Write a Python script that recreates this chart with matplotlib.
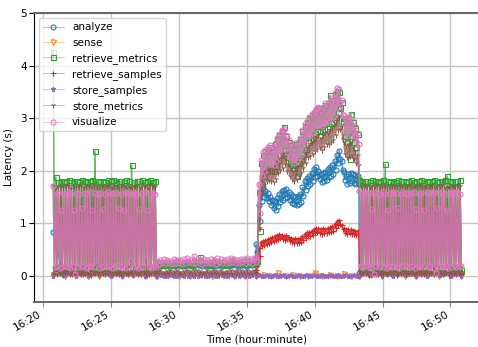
import numpy as np
import pandas as pd
import matplotlib
matplotlib.use("Agg")
import matplotlib.pyplot as plt
import matplotlib.dates as mdates
from matplotlib.colors import to_rgba

# run phases, minutes after 16:00 (load A, idle, stress, load B)
phases = [(20.75, 28.35), (28.40, 35.65), (35.70, 43.25), (43.30, 50.80)]


def zigzag(hi, lo):
    # requests alternate between a slow and a fast answer
    out = []
    for h, l in zip(hi, lo):
        out += [h, l]
    return out


# ---- analyze
an_a = [0.84, 0.06, 0.05, 0.07, 0.05, 0.06, 0.04, 0.06, 0.05, 0.07, 0.05, 0.06]
an_b_hi = [0.23, 0.24, 0.22, 0.25, 0.23, 0.24, 0.26, 0.23, 0.22, 0.24,
           0.25, 0.28, 0.24, 0.23, 0.25, 0.24, 0.22, 0.24, 0.26, 0.23,
           0.24, 0.25, 0.27, 0.24, 0.23, 0.25, 0.24, 0.26, 0.25, 0.26]
an_b_lo = [0.19, 0.20, 0.18, 0.19, 0.20, 0.18, 0.21, 0.19, 0.18, 0.20,
           0.19, 0.21, 0.20, 0.18, 0.19, 0.20, 0.18, 0.19, 0.21, 0.19,
           0.20, 0.19, 0.21, 0.20, 0.19, 0.20, 0.19, 0.21, 0.20, 0.21]
an_c_hi = [0.60, 1.35, 1.58, 1.66, 1.62, 1.58, 1.50, 1.44, 1.42, 1.48,
           1.56, 1.61, 1.64, 1.65, 1.60, 1.55, 1.52, 1.50, 1.52, 1.56,
           1.68, 1.80, 1.86, 1.90, 1.96, 2.03, 2.06, 2.00, 1.94, 1.96,
           1.98, 2.03, 2.06, 2.10, 2.18, 2.30, 2.38, 2.18, 1.98, 1.90,
           1.93, 1.96, 1.93, 1.91, 1.90]
an_c_lo = [0.45, 1.05, 1.42, 1.50, 1.48, 1.42, 1.34, 1.28, 1.26, 1.32,
           1.40, 1.45, 1.48, 1.49, 1.44, 1.39, 1.36, 1.34, 1.36, 1.40,
           1.52, 1.64, 1.70, 1.74, 1.80, 1.87, 1.90, 1.84, 1.78, 1.80,
           1.82, 1.87, 1.90, 1.94, 2.02, 2.14, 2.22, 2.02, 1.82, 1.74,
           1.77, 1.80, 1.77, 1.75, 1.74]
an_d = [0.06, 0.05, 0.07, 0.05, 0.06, 0.04, 0.06, 0.05, 0.07, 0.05, 0.06, 0.05]

# ---- sense
se_a = [0.01, 0.00, 0.01, 0.00, 0.00, 0.01, 0.00, 0.01, 0.00, 0.00]
se_b = [0.00, 0.01, 0.00, 0.00, 0.01, 0.00, 0.01, 0.00, 0.00, 0.01]
se_c = [0.00, 0.01, 0.00, 0.05, 0.00, 0.01, 0.00, 0.00,
        0.06, 0.00, 0.01, 0.00, 0.04, 0.00, 0.00]
se_d = [0.00, 0.01, 0.00, 0.01, 0.00, 0.00, 0.01, 0.00, 0.01, 0.00]

# ---- retrieve_metrics
rm_a_hi = [4.26, 1.88, 1.79, 1.81, 1.78, 1.80, 1.82, 1.79, 1.81, 1.80,
           1.78, 1.83, 1.80, 1.79, 1.81, 1.82, 2.37, 1.80, 1.78, 1.81,
           1.79, 1.82, 1.80, 1.83, 1.79, 1.81, 1.80, 1.78, 1.82, 1.80,
           2.10, 1.79, 1.81, 1.80, 1.83, 1.78, 1.80, 1.82, 1.79, 1.81]
rm_a_lo = [0.14, 0.16, 0.13, 0.15, 0.17, 0.14, 0.16, 0.13, 0.15, 0.14,
           0.16, 0.15, 0.13, 0.17, 0.14, 0.16, 0.15, 0.13, 0.14, 0.16,
           0.15, 0.17, 0.14, 0.13, 0.16, 0.15, 0.14, 0.16, 0.13, 0.15,
           0.17, 0.14, 0.16, 0.15, 0.13, 0.14, 0.16, 0.15, 0.17, 0.14]
rm_b_hi = [0.25, 0.26, 0.24, 0.27, 0.25, 0.26, 0.28, 0.25, 0.26, 0.27,
           0.25, 0.28, 0.26, 0.36, 0.27, 0.25, 0.26, 0.28, 0.27, 0.26,
           0.25, 0.27, 0.29, 0.26, 0.27, 0.28, 0.26, 0.29, 0.27, 0.28]
rm_b_lo = [0.21, 0.22, 0.20, 0.22, 0.21, 0.22, 0.23, 0.21, 0.22, 0.23,
           0.21, 0.23, 0.22, 0.24, 0.23, 0.21, 0.22, 0.23, 0.22, 0.22,
           0.21, 0.23, 0.24, 0.22, 0.23, 0.23, 0.22, 0.24, 0.23, 0.24]
rm_c_hi = [0.32, 1.60, 2.15, 2.30, 2.38, 2.42, 2.45, 2.38, 2.50, 2.60,
           2.68, 2.75, 2.83, 2.65, 2.55, 2.48, 2.42, 2.50, 2.52, 2.60,
           2.75, 2.85, 2.92, 3.00, 3.05, 3.10, 3.15, 3.20, 3.12, 3.20,
           3.25, 3.28, 3.43, 3.35, 3.45, 3.52, 3.50, 3.30, 3.00, 2.95,
           3.00, 3.08, 2.92, 2.82, 2.70]
rm_c_lo = [0.28, 0.85, 1.75, 1.90, 2.00, 2.05, 2.02, 2.00, 2.08, 2.20,
           2.30, 2.32, 2.40, 2.25, 2.15, 2.10, 2.05, 1.90, 2.15, 2.20,
           2.32, 2.42, 2.55, 2.58, 2.62, 2.70, 2.75, 2.78, 2.75, 2.80,
           2.82, 2.85, 2.90, 2.92, 3.02, 3.12, 3.20, 2.95, 2.65, 2.55,
           2.23, 2.65, 2.55, 2.45, 1.80]
rm_d_hi = [1.82, 1.79, 1.81, 1.80, 1.78, 1.82, 1.80, 1.79, 1.81, 1.83,
           2.12, 1.80, 1.78, 1.81, 1.79, 1.82, 1.80, 1.81, 1.78, 1.80,
           1.82, 1.79, 1.81, 1.80, 1.83, 1.79, 1.81, 1.78, 1.80, 1.82,
           1.79, 1.81, 1.80, 1.82, 1.90, 1.80, 1.79, 1.81, 1.80, 1.82]
rm_d_lo = [0.15, 0.14, 0.16, 0.13, 0.15, 0.17, 0.14, 0.16, 0.15, 0.13,
           0.14, 0.16, 0.15, 0.17, 0.13, 0.15, 0.14, 0.16, 0.15, 0.14,
           0.16, 0.13, 0.15, 0.17, 0.14, 0.16, 0.15, 0.13, 0.14, 0.16,
           0.15, 0.17, 0.14, 0.16, 0.13, 0.15, 0.14, 0.16, 0.15, 0.10]

# ---- retrieve_samples
rs_a = [0.03, 0.02, 0.03, 0.04, 0.02, 0.03, 0.02, 0.03, 0.04, 0.03, 0.02, 0.03]
rs_b = [0.03, 0.04, 0.03, 0.02, 0.03, 0.04, 0.03, 0.03, 0.02, 0.04]
rs_c_hi = [0.10, 0.52, 0.64, 0.67, 0.68, 0.70, 0.72, 0.74, 0.76, 0.78,
           0.79, 0.77, 0.76, 0.77, 0.74, 0.72, 0.70, 0.71, 0.70, 0.72,
           0.76, 0.80, 0.83, 0.84, 0.86, 0.89, 0.91, 0.90, 0.88, 0.90,
           0.89, 0.91, 0.92, 0.94, 0.99, 1.04, 1.06, 0.96, 0.90, 0.88,
           0.89, 0.88, 0.87, 0.86, 0.86]
rs_c_lo = [0.06, 0.38, 0.56, 0.59, 0.60, 0.62, 0.64, 0.66, 0.68, 0.70,
           0.71, 0.69, 0.68, 0.69, 0.66, 0.64, 0.62, 0.63, 0.62, 0.64,
           0.68, 0.72, 0.75, 0.76, 0.78, 0.81, 0.83, 0.82, 0.80, 0.82,
           0.81, 0.83, 0.84, 0.86, 0.91, 0.96, 0.98, 0.88, 0.82, 0.80,
           0.81, 0.80, 0.79, 0.78, 0.78]
rs_d = [0.03, 0.02, 0.03, 0.04, 0.02, 0.03, 0.02, 0.03, 0.04, 0.03, 0.02, 0.03]

# ---- store_samples
ss_a = [0.00, 0.01, 0.00, 0.00, 0.01, 0.00, 0.00, 0.01, 0.00, 0.00]
ss_b = [0.00, 0.01, 0.00, 0.00, 0.01, 0.00, 0.00, 0.01, 0.00, 0.00,
        0.01, 0.00, 0.00, 0.01, 0.00, 0.00, 0.01, 0.00, 0.00, 0.01,
        0.00, 0.00, 0.01, 0.00, 0.00, 0.01, 0.00, 0.00, 0.01, 0.00]
ss_c = [0.00, 0.01, 0.00, 0.00, 0.01, 0.00, 0.00, 0.01, 0.00, 0.00,
        0.01, 0.00, 0.00, 0.01, 0.00, 0.00, 0.01, 0.00, 0.00, 0.01,
        0.00, 0.00, 0.01, 0.00, 0.00, 0.01, 0.00, 0.00, 0.01, 0.00,
        0.00, 0.01, 0.00, 0.00, 0.01, 0.00, 0.00, 0.01, 0.00, 0.00]
ss_d = [0.00, 0.01, 0.00, 0.00, 0.01, 0.00, 0.00, 0.01, 0.00, 0.00]

# ---- store_metrics
sm_a_hi = [1.72, 1.70, 1.68, 1.71, 1.69, 1.72, 1.70, 1.67, 1.71, 1.69,
           1.70, 1.72, 1.68, 1.70, 1.71, 1.69, 1.73, 1.70, 1.68, 1.71,
           1.69, 1.70, 1.72, 1.68, 1.71, 1.70, 1.69, 1.72, 1.70, 1.68,
           1.71, 1.69, 1.70, 1.72, 1.68, 1.70, 1.71, 1.69, 1.72, 1.70, 1.69]
sm_a_lo = [0.05, 0.04, 0.06, 0.03, 0.05, 0.07, 0.04, 0.05, 0.06, 0.04,
           0.05, 0.03, 0.06, 0.05, 0.04, 0.07, 0.05, 0.04, 0.06, 0.05,
           0.03, 0.05, 0.06, 0.04, 0.05, 0.07, 0.04, 0.05, 0.06, 0.03,
           0.05, 0.04, 0.06, 0.05, 0.04, 0.07, 0.05, 0.04, 0.06, 0.05, 0.04]
sm_b_hi = [0.09, 0.10, 0.08, 0.09, 0.11, 0.09, 0.10, 0.08, 0.09, 0.10,
           0.09, 0.11, 0.10, 0.09, 0.08, 0.10, 0.09, 0.11, 0.09, 0.10,
           0.08, 0.09, 0.10, 0.09, 0.11, 0.10, 0.09, 0.10, 0.09, 0.10]
sm_b_lo = [0.05, 0.06, 0.04, 0.05, 0.06, 0.05, 0.06, 0.04, 0.05, 0.06,
           0.05, 0.06, 0.05, 0.04, 0.05, 0.06, 0.05, 0.06, 0.04, 0.05,
           0.06, 0.05, 0.04, 0.05, 0.06, 0.05, 0.04, 0.06, 0.05, 0.06]
sm_c_hi = [0.28, 1.30, 1.85, 1.95, 2.02, 2.05, 2.05, 2.00, 2.08, 2.18,
           2.25, 2.30, 2.35, 2.22, 2.12, 2.05, 2.00, 2.05, 2.10, 2.15,
           2.28, 2.38, 2.45, 2.50, 2.55, 2.60, 2.65, 2.68, 2.62, 2.68,
           2.72, 2.72, 2.78, 2.82, 2.90, 3.00, 3.02, 2.85, 2.55, 2.48,
           2.50, 2.55, 2.45, 2.38, 2.30]
sm_c_lo = [0.25, 0.90, 1.60, 1.72, 1.80, 1.82, 1.80, 1.78, 1.85, 1.95,
           2.02, 2.05, 2.12, 2.00, 1.90, 1.85, 1.80, 1.85, 1.90, 1.95,
           2.05, 2.15, 2.25, 2.28, 2.32, 2.38, 2.42, 2.45, 2.40, 2.45,
           2.50, 2.50, 2.55, 2.58, 2.68, 2.78, 2.80, 2.60, 2.32, 2.25,
           2.28, 2.30, 2.22, 2.15, 2.10]
sm_d_hi = [1.71, 1.69, 1.72, 1.70, 1.68, 1.71, 1.70, 1.72, 1.69, 1.70,
           1.73, 1.70, 1.68, 1.71, 1.69, 1.72, 1.70, 1.71, 1.68, 1.70,
           1.72, 1.69, 1.71, 1.70, 1.73, 1.69, 1.71, 1.68, 1.70, 1.72,
           1.69, 1.71, 1.70, 1.72, 1.68, 1.70, 1.69, 1.71, 1.70, 1.72, 1.70]
sm_d_lo = [0.04, 0.06, 0.05, 0.03, 0.05, 0.07, 0.04, 0.06, 0.05, 0.04,
           0.05, 0.06, 0.03, 0.05, 0.07, 0.04, 0.05, 0.06, 0.04, 0.05,
           0.06, 0.03, 0.05, 0.07, 0.04, 0.05, 0.06, 0.04, 0.05, 0.03,
           0.05, 0.06, 0.04, 0.05, 0.07, 0.04, 0.05, 0.06, 0.04, 0.05, 0.06]

# ---- visualize
vis_a_hi = [1.70, 1.56, 1.58, 1.26, 1.55, 1.57, 1.59, 1.56, 1.25, 1.58,
            1.55, 1.28, 1.57, 1.56, 1.60, 1.26, 1.57, 1.55, 1.58, 1.27,
            1.56, 1.59, 1.55, 1.57, 1.58, 1.29, 1.56, 1.26, 1.60, 1.57,
            1.55, 1.58, 1.56, 1.27, 1.57, 1.59, 1.25, 1.56, 1.58, 1.55]
vis_a_lo = [0.16, 0.18, 0.15, 0.17, 0.19, 0.16, 0.15, 0.18, 0.04, 0.17,
            0.16, 0.19, 0.15, 0.17, 0.18, 0.16, 0.29, 0.15, 0.17, 0.19,
            0.16, 0.18, 0.15, 0.17, 0.20, 0.16, 0.18, 0.15, 0.17, 0.30,
            0.16, 0.19, 0.15, 0.17, 0.18, 0.31, 0.16, 0.15, 0.18, 0.17]
vis_b_hi = [0.28, 0.29, 0.31, 0.30, 0.28, 0.32, 0.30, 0.29, 0.31, 0.33,
            0.30, 0.38, 0.31, 0.29, 0.32, 0.30, 0.31, 0.29, 0.33, 0.31,
            0.30, 0.32, 0.34, 0.31, 0.30, 0.32, 0.31, 0.33, 0.32, 0.34]
vis_b_lo = [0.23, 0.24, 0.25, 0.24, 0.23, 0.25, 0.24, 0.23, 0.25, 0.26,
            0.24, 0.25, 0.24, 0.23, 0.25, 0.24, 0.25, 0.23, 0.26, 0.25,
            0.24, 0.25, 0.26, 0.25, 0.24, 0.26, 0.25, 0.26, 0.25, 0.27]
vis_c_hi = [0.35, 1.75, 2.20, 2.35, 2.40, 2.45, 2.48, 2.40, 2.52, 2.62,
            2.70, 2.78, 2.80, 2.68, 2.58, 2.50, 2.45, 2.52, 2.55, 2.62,
            2.78, 2.88, 2.95, 3.02, 3.08, 3.12, 3.18, 3.22, 3.15, 3.22,
            3.28, 3.26, 3.32, 3.38, 3.48, 3.57, 3.55, 3.35, 3.05, 2.98,
            3.02, 3.05, 2.95, 2.85, 2.72]
vis_c_lo = [0.30, 1.20, 1.90, 2.00, 2.10, 2.15, 2.12, 2.10, 2.18, 2.30,
            2.40, 2.42, 2.50, 2.35, 2.25, 2.20, 2.15, 2.18, 2.25, 2.30,
            2.42, 2.52, 2.65, 2.68, 2.72, 2.80, 2.85, 2.88, 2.85, 2.90,
            2.92, 2.95, 3.00, 3.02, 3.12, 3.22, 3.30, 3.05, 2.75, 2.65,
            2.70, 2.75, 2.65, 2.55, 2.50]
vis_d_hi = [1.62, 1.57, 1.59, 1.56, 1.58, 1.27, 1.60, 1.57, 1.55, 1.59,
            1.56, 1.26, 1.58, 1.60, 1.57, 1.28, 1.56, 1.59, 1.57, 1.55,
            1.58, 1.60, 1.27, 1.56, 1.58, 1.25, 1.59, 1.57, 1.56, 1.60,
            1.28, 1.57, 1.59, 1.56, 1.26, 1.58, 1.60, 1.57, 1.59, 1.56]
vis_d_lo = [0.18, 0.16, 0.19, 0.17, 0.15, 0.04, 0.18, 0.16, 0.20, 0.17,
            0.15, 0.18, 0.16, 0.19, 0.17, 0.15, 0.18, 0.21, 0.16, 0.17,
            0.19, 0.15, 0.18, 0.16, 0.17, 0.20, 0.16, 0.18, 0.15, 0.05,
            0.17, 0.19, 0.16, 0.18, 0.15, 0.17, 0.20, 0.16, 0.18, 0.19]

series = {
    "analyze": [an_a, zigzag(an_b_hi, an_b_lo), zigzag(an_c_hi, an_c_lo), an_d],
    "sense": [se_a, se_b, se_c, se_d],
    "retrieve_metrics": [zigzag(rm_a_hi, rm_a_lo), zigzag(rm_b_hi, rm_b_lo),
                         zigzag(rm_c_hi, rm_c_lo), zigzag(rm_d_hi, rm_d_lo)],
    "retrieve_samples": [rs_a, rs_b, zigzag(rs_c_hi, rs_c_lo), rs_d],
    "store_samples": [ss_a, ss_b, ss_c, ss_d],
    "store_metrics": [zigzag(sm_a_hi, sm_a_lo), zigzag(sm_b_hi, sm_b_lo),
                      zigzag(sm_c_hi, sm_c_lo), zigzag(sm_d_hi, sm_d_lo)],
    "visualize": [zigzag(vis_a_hi, vis_a_lo), zigzag(vis_b_hi, vis_b_lo),
                  zigzag(vis_c_hi, vis_c_lo), zigzag(vis_d_hi, vis_d_lo)],
}
colors = ["C0", "C1", "C2", "C3", "C4", "C5", "C6"]
markers = ["o", "v", "s", "+", "*", "1", "o"]

day = pd.Timestamp("2018-06-12 16:00")


def stamps(minutes):
    return (day + pd.to_timedelta(np.asarray(minutes), unit="m")).to_numpy()


def build(parts):
    t, v = [], []
    for (t0, t1), vals in zip(phases, parts):
        t.append(np.linspace(t0, t1, len(vals)))
        v.extend(vals)
    return stamps(np.concatenate(t)), np.array(v)


fig = plt.figure(figsize=(4.78, 3.47), dpi=100)
ax = fig.add_axes([0.0701, 0.1297, 0.932, 0.8329])

for (name, parts), c, m in zip(series.items(), colors, markers):
    t, v = build(parts)
    face = c if m == "*" else "none"
    ax.plot(t, v, color=to_rgba(c, 0.75), lw=1.1, marker=m, ms=3.6,
            mec=c, mfc=face, mew=0.8, label=name)

ax.set_ylim(-0.5, 5)
ax.set_xlim(stamps(19.3), stamps(52.1))
ax.xaxis.set_major_locator(mdates.MinuteLocator(byminute=range(0, 60, 5)))
ax.xaxis.set_major_formatter(mdates.DateFormatter("%H:%M"))
ax.grid(True, color="#c4c4c4", lw=1.0)
ax.set_axisbelow(True)

for lab in ax.get_xticklabels():
    lab.set_rotation(30)
    lab.set_ha("right")
ax.tick_params(axis="both", labelsize=7.5, length=3.5, pad=1.5)
ax.tick_params(axis="x", color="#888888")

ax.spines["left"].set_color("black")
ax.spines["left"].set_linewidth(0.8)
for s in ["top", "bottom", "right"]:
    ax.spines[s].set_color("#666666")
    ax.spines[s].set_linewidth(1.4)

ax.set_xlabel("Time (hour:minute)", fontsize=7.5, labelpad=1)
ax.set_ylabel("Latency (s)", fontsize=7.5, labelpad=4)
leg = ax.legend(loc="upper left", fontsize=7.5, framealpha=0.8)
for h in leg.get_lines():
    h.set_linewidth(0.6)
    h.set_color(to_rgba(h.get_mec(), 0.45))

fig.savefig("out.png", dpi=100)
